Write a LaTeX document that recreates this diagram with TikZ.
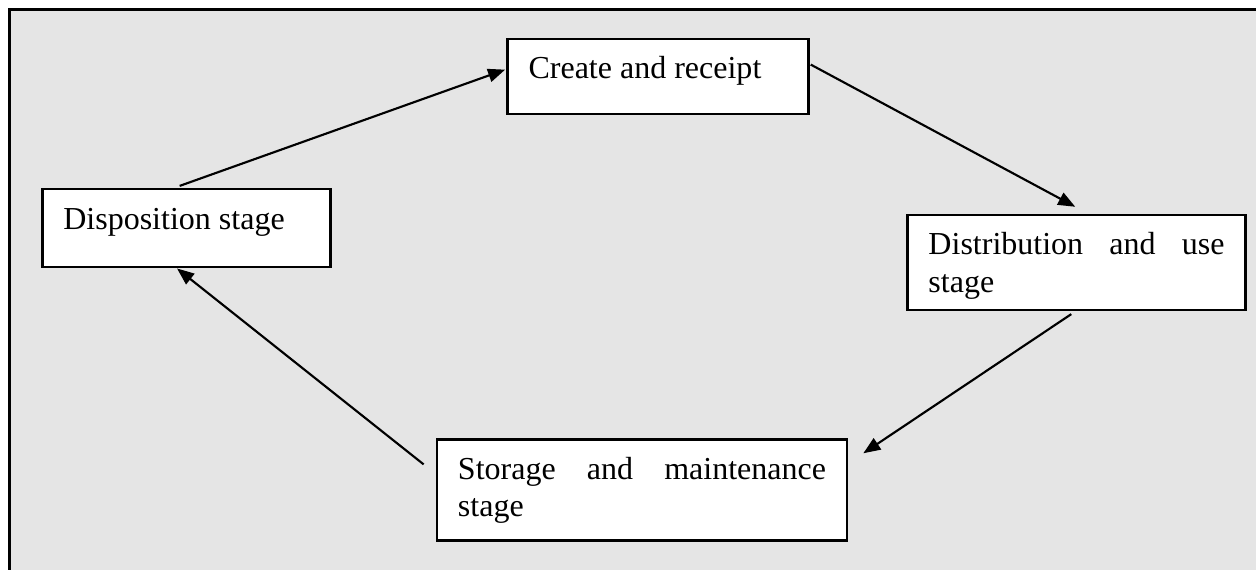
\documentclass[tikz,border=0pt]{standalone}
\usepackage{fontspec}
\setmainfont{Liberation Serif}
\usepackage{xcolor}
\usepackage{tikz}
\usetikzlibrary{arrows.meta}
\definecolor{panelgray}{RGB}{229,229,229}
\tikzset{
	stagebox/.style={draw, fill=white, line width=0.95pt, anchor=base west,
		inner xsep=7.9pt, inner ysep=0pt, text height=15pt, align=justify,
		font=\fontsize{12pt}{14pt}\selectfont},
	flow/.style={line width=0.8pt, -{Triangle[length=6.4pt,width=5pt]}}
}

\begin{document}
\begin{tikzpicture}
		\useasboundingbox (0,0) rectangle (16.55,7.51);
		%panel
		\fill[panelgray] (0.125,0) rectangle (16.55,7.38);
		\draw[line width=1.1pt] (0.125,0) -- (0.125,7.38) -- (16.55,7.38);
		
		%stages
		\node[stagebox, text width=3.41cm, text depth=13.1pt] (create) at (6.67,6.47) {Create and receipt};
		\node[stagebox, text width=3.24cm, text depth=14.25pt] (disp) at (0.54,4.49) {Disposition stage};
		\node[stagebox, text width=3.90cm, text depth=20.6pt] (dist) at (11.94,4.15) {Distribution\hfill and\hfill use\\stage};
		\node[stagebox, text width=4.85cm, text depth=22.9pt] (store) at (5.74,1.19) {Storage\hfill and\hfill maintenance\\stage};
		
		%cycle
		\draw[flow] ([xshift=52pt,yshift=0.75pt]disp.north west) -- ([xshift=-0.4pt,yshift=-12pt]create.north west);
		\draw[flow] ([xshift=0.4pt,yshift=-10.1pt]create.north east) -- ([xshift=63.4pt,yshift=2.6pt]dist.north west);
		\draw[flow] ([xshift=61.9pt,yshift=-1.1pt]dist.south west) -- ([xshift=5.6pt,yshift=-5.6pt]store.north east);
		\draw[flow] ([xshift=-4.5pt,yshift=-9.75pt]store.north west) -- ([xshift=51pt]disp.south west);
	\end{tikzpicture}
\end{document}
